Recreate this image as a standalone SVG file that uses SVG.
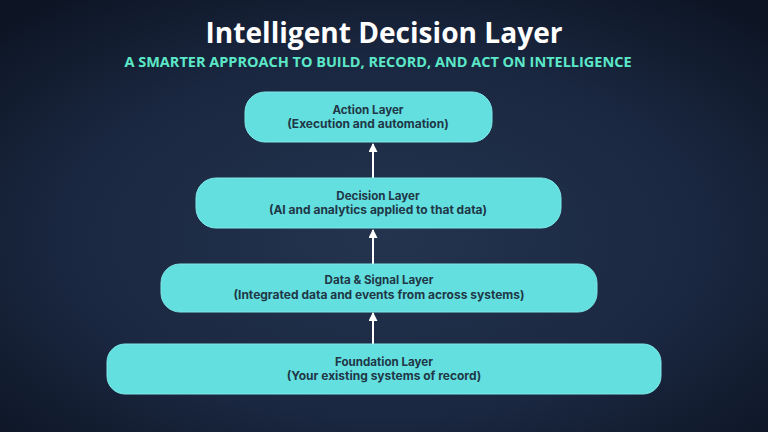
<svg xmlns="http://www.w3.org/2000/svg" width="768" height="432" viewBox="0 0 768 432">
  <defs>
    <radialGradient id="bg" cx="50%" cy="55%" r="70%">
      <stop offset="0" stop-color="#24344f"/>
      <stop offset="0.6" stop-color="#1a2740"/>
      <stop offset="1" stop-color="#0d1524"/>
    </radialGradient>
    <marker id="arr" viewBox="0 0 10 10" refX="9" refY="5" markerWidth="10" markerHeight="9" orient="auto" markerUnits="userSpaceOnUse">
      <path d="M0,0 L10,5 L0,10 z" fill="#ffffff"/>
    </marker>
    <style>
      .box { fill: #63dfe0; stroke: #7ee8e8; stroke-width: 1; }
      .t1 { font-family: "Inter", "Open Sans", sans-serif; font-weight: 700; font-size: 11.6px; fill: #1f3746; text-anchor: middle; }
      .t2 { font-family: "Inter", "Open Sans", sans-serif; font-weight: 700; font-size: 12px; fill: #1f3746; text-anchor: middle; }
      .conn { stroke: #ffffff; stroke-width: 2; fill: none; }
    </style>
  </defs>
  <rect width="768" height="432" fill="url(#bg)"/>
  <text x="384" y="43" text-anchor="middle" font-family="'Open Sans', sans-serif" font-weight="700" font-size="28" fill="#ffffff" textLength="357" lengthAdjust="spacingAndGlyphs">Intelligent Decision Layer</text>
  <text x="378" y="67" text-anchor="middle" font-family="'Open Sans', sans-serif" font-weight="700" font-size="14" fill="#5ce8c8" textLength="507" lengthAdjust="spacingAndGlyphs">A SMARTER APPROACH TO BUILD, RECORD, AND ACT ON INTELLIGENCE</text>

  <g id="connectors">
    <line class="conn" x1="373" y1="178" x2="373" y2="144" marker-end="url(#arr)"/>
    <line class="conn" x1="373" y1="264" x2="373" y2="230" marker-end="url(#arr)"/>
    <line class="conn" x1="373" y1="344" x2="373" y2="313" marker-end="url(#arr)"/>
  </g>

  <g id="action">
    <rect class="box" x="245" y="92" width="247" height="50" rx="20"/>
    <text class="t1" x="368" y="114">Action Layer</text>
    <text class="t2" x="368" y="128">(Execution and automation)</text>
  </g>
  <g id="decision">
    <rect class="box" x="196" y="178" width="365" height="50" rx="20"/>
    <text class="t1" x="378" y="200">Decision Layer</text>
    <text class="t2" x="378" y="214">(AI and analytics applied to that data)</text>
  </g>
  <g id="data">
    <rect class="box" x="161" y="264" width="436" height="48" rx="19"/>
    <text class="t1" x="379" y="284">Data &amp; Signal Layer</text>
    <text class="t2" x="379" y="298.5">(Integrated data and events from across systems)</text>
  </g>
  <g id="foundation">
    <rect class="box" x="107" y="344" width="554" height="50" rx="18"/>
    <text class="t1" x="384" y="366">Foundation Layer</text>
    <text class="t2" x="384" y="380">(Your existing systems of record)</text>
  </g>
</svg>
